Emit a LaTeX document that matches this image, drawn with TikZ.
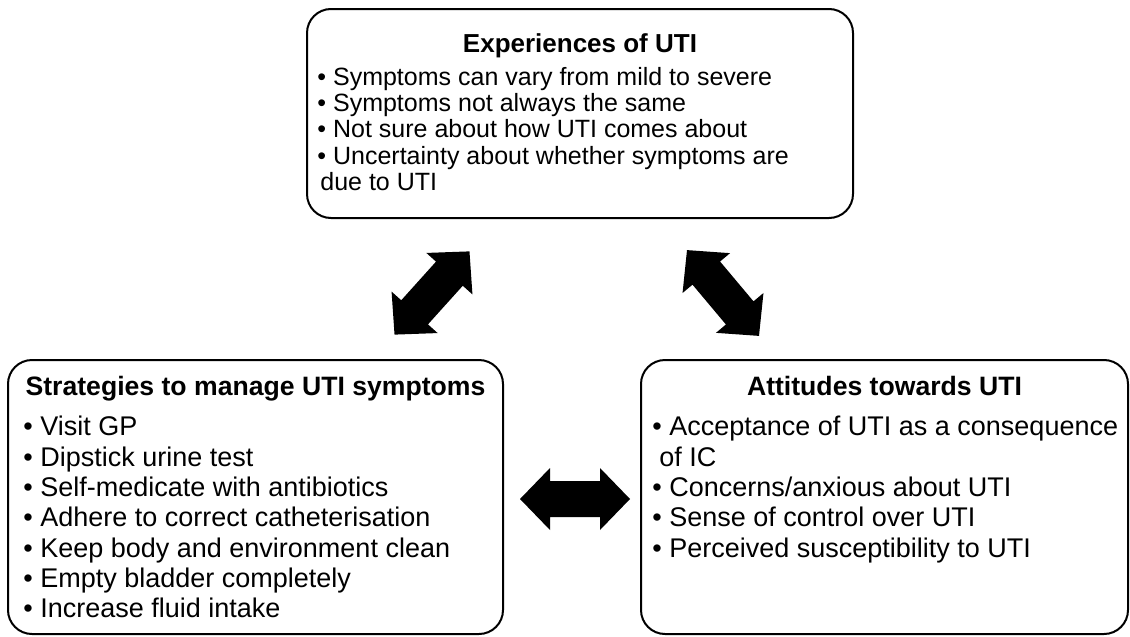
\documentclass[tikz,border=0pt]{standalone}
\usepackage{fontspec}
\setmainfont{Liberation Sans}

\tikzset{
  box/.style={draw, line width=1pt, rounded corners=12pt, inner sep=0pt},
  heading/.style={font=\bfseries\fontsize{13.3}{16}\selectfont, inner sep=0pt, anchor=base},
  bullets/.style={font=\fontsize{13.5}{15.15}\selectfont, align=left, inner sep=0pt, anchor=north west},
  blockarrow/.style={fill=black}
}

\begin{document}
\begin{tikzpicture}[x=0.5pt,y=-0.5pt]
    \useasboundingbox (0,0) rectangle (1130,637);
    % The three boxes.
        \node[box, minimum width=273pt, minimum height=104.5pt] (experiences) at (580,113.5) {};
        \node[box, minimum width=247.5pt, minimum height=137pt] (strategies) at (255.5,497) {};
        \node[box, minimum width=243.5pt, minimum height=137pt] (attitudes) at (884.5,497) {};
    % Below nodes are the headings.
        \node[heading, font=\bfseries\fontsize{13}{16}\selectfont] (experiencestitle) at (580,53) {Experiences of UTI};
        \node[heading] (strategiestitle) at (255.5,395) {Strategies to manage UTI symptoms};
        \node[heading] (attitudestitle) at (884.5,395) {Attitudes towards UTI};
    % Below nodes are the bullet lists.
        \node[bullets, font=\fontsize{12.5}{13.1}\selectfont] (experienceslist) at (317,67) {%
            \textbullet\ Symptoms can vary from mild to severe\\
            \textbullet\ Symptoms not always the same\\
            \textbullet\ Not sure about how UTI comes about\\
            \textbullet\ Uncertainty about whether symptoms are\\
            \hspace{1.5pt}due to UTI};
        \node[bullets] (strategieslist) at (23,416) {%
            \textbullet\ Visit GP\\
            \textbullet\ Dipstick urine test\\
            \textbullet\ Self-medicate with antibiotics\\
            \textbullet\ Adhere to correct catheterisation\\
            \textbullet\ Keep body and environment clean\\
            \textbullet\ Empty bladder completely\\
            \textbullet\ Increase fluid intake};
        \node[bullets] (attitudeslist) at (652,416) {%
            \textbullet\ Acceptance of UTI as a consequence\\
            \hspace{3.5pt}of IC\\
            \textbullet\ Concerns/anxious about UTI\\
            \textbullet\ Sense of control over UTI\\
            \textbullet\ Perceived susceptibility to UTI};
    % This draws the block arrows.
        \coordinate (leftarrow) at (432,293);
        \coordinate (rightarrow) at (723,293);
        \coordinate (lowerarrow) at (575,499);
        \begin{scope}[shift={(leftarrow)}, rotate=48]
            \fill[blockarrow] (-56,0) -- (-26,31) -- (-26,18) -- (26,18) -- (26,31) -- (56,0)
                -- (26,-31) -- (26,-18) -- (-26,-18) -- (-26,-31) -- cycle;
        \end{scope}
        \begin{scope}[shift={(rightarrow)}, rotate=-50]
            \fill[blockarrow] (-56,0) -- (-26,31) -- (-26,18) -- (26,18) -- (26,31) -- (56,0)
                -- (26,-31) -- (26,-18) -- (-26,-18) -- (-26,-31) -- cycle;
        \end{scope}
        \begin{scope}[shift={(lowerarrow)}]
            \fill[blockarrow] (-55,0) -- (-25,31) -- (-25,18) -- (25,18) -- (25,31) -- (55,0)
                -- (25,-31) -- (25,-18) -- (-25,-18) -- (-25,-31) -- cycle;
        \end{scope}
\end{tikzpicture}
\end{document}
